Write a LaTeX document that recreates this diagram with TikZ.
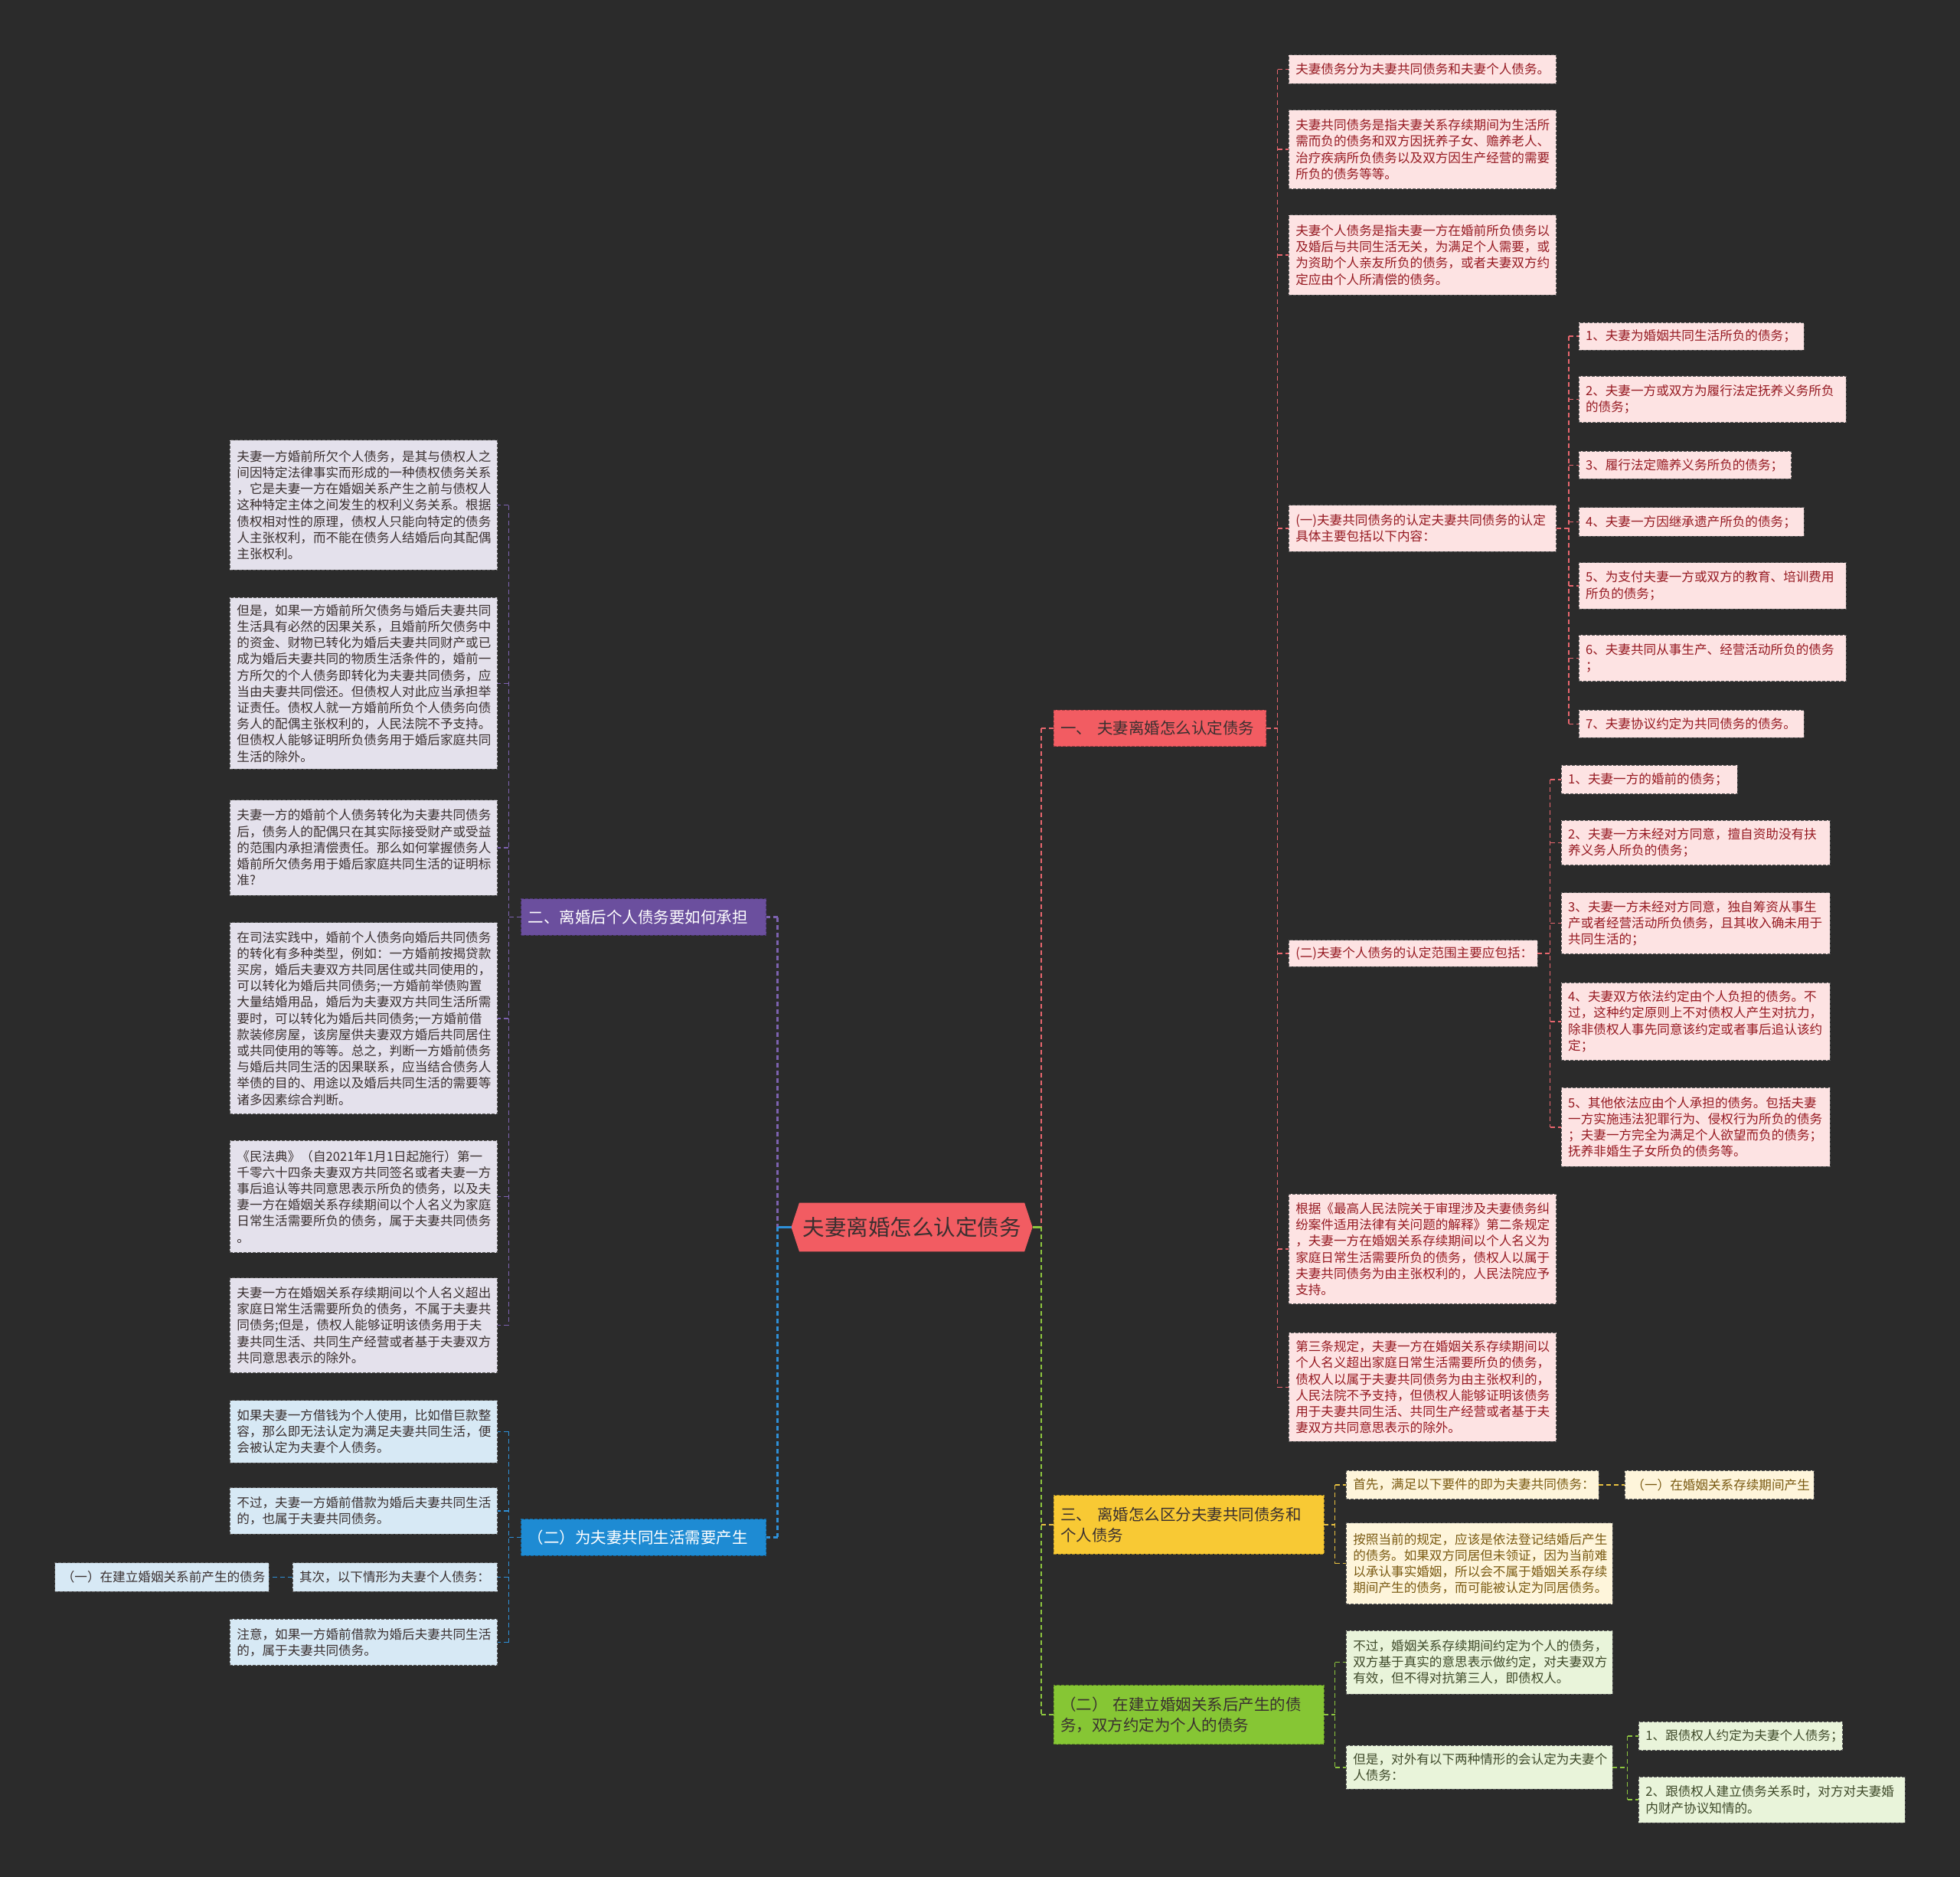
\documentclass[tikz,border=0pt]{standalone}
\usepackage{fontspec}
\newfontfamily\cjk{Noto Sans CJK SC}
\usetikzlibrary{calc}
\definecolor{bgc}{HTML}{2B2B2B}
\definecolor{redM}{HTML}{F25C62}
\definecolor{redL}{HTML}{E8666E}
\definecolor{pinkF}{HTML}{FDE3E3}
\definecolor{pinkT}{HTML}{961A22}
\definecolor{purM}{HTML}{6B4F9E}
\definecolor{purL}{HTML}{7D62B0}
\definecolor{lavF}{HTML}{E4E1EC}
\definecolor{bluM}{HTML}{1E8BD3}
\definecolor{bluL}{HTML}{2E90D8}
\definecolor{lbF}{HTML}{D7E9F5}
\definecolor{yelM}{HTML}{F8C934}
\definecolor{yelL}{HTML}{E8C040}
\definecolor{yelF}{HTML}{FEF5DB}
\definecolor{yelT}{HTML}{7A5A12}
\definecolor{grnM}{HTML}{86C634}
\definecolor{grnL}{HTML}{8DC63F}
\definecolor{grnF}{HTML}{E9F4DA}
\definecolor{grnT}{HTML}{3F4A2A}
\definecolor{darkT}{HTML}{3A3030}
\definecolor{bordG}{HTML}{5A5A5A}
\newcommand\leaffont{\cjk\fontsize{16.6}{21.2}\selectfont}
\newcommand\brfont{\cjk\fontsize{20.5}{27.5}\selectfont}
\newcommand\bx[7]{%
  \pgfmathsetmacro\bxw{(#4-#2)*1.63265}%
  \pgfmathsetmacro\bxh{(#5-#3)*1.63265}%
  \pgfmathsetmacro\bxt{\bxw-18}%
  \node[#6, minimum width=\bxw pt, minimum height=\bxh pt, text width=\bxt pt] (#1) at ({(#2+#4)/2},{(#3+#5)/2}) {#7};}
\tikzset{
  box/.style={rectangle, inner xsep=9pt, inner ysep=1pt, outer sep=0pt, align=left, line width=0.9pt, dash pattern=on 4pt off 2pt},
  leafR/.style={box, fill=pinkF, draw=bordG, text=pinkT, font=\leaffont},
  leafP/.style={box, fill=lavF, draw=bordG, text=darkT, font=\leaffont},
  leafB/.style={box, fill=lbF, draw=bordG, text=darkT, font=\leaffont},
  leafY/.style={box, fill=yelF, draw=bordG, text=yelT, font=\leaffont},
  leafG/.style={box, fill=grnF, draw=bordG, text=grnT, font=\leaffont},
  brR/.style={box, fill=redM, draw=redM!70!black, text=darkT, font=\brfont},
  brP/.style={box, fill=purM, draw=purM!70!black, text=white, font=\brfont},
  brB/.style={box, fill=bluM, draw=bluM!70!black, text=white, font=\brfont},
  brY/.style={box, fill=yelM, draw=yelM!70!black, text=darkT, font=\brfont},
  brG/.style={box, fill=grnM, draw=grnM!70!black, text=darkT, font=\brfont},
  ln/.style={line width=1.5pt, dash pattern=on 6pt off 4pt},
  lnR/.style={ln, draw=redL},
  lnP/.style={ln, draw=purL},
  lnB/.style={ln, draw=bluL},
  lnY/.style={ln, draw=yelL},
  lnG/.style={ln, draw=grnL},
  tk/.style={line width=2.5pt, dash pattern=on 6pt off 4pt},
}
\begin{document}
\begin{tikzpicture}[x=1.63265pt, y=-1.63265pt]
\fill[bgc] (0,0) rectangle (1568,1501);
\useasboundingbox (0,0) rectangle (1568,1501);

% central topic
\fill[redM] (633,981.5) -- (639.4,962) -- (819.6,962) -- (826,981.5) -- (819.6,1001) -- (639.4,1001) -- cycle;
\node[minimum width=315pt, minimum height=64pt, inner sep=0pt, outer sep=0pt, text=darkT, font=\cjk\fontsize{28.5}{32}\selectfont] (Z) at (729.5,981.5) {夫妻离婚怎么认定债务};

% main branches
\bx{R}{843}{568}{1013}{597}{brR}{一、 夫妻离婚怎么认定债务}
\bx{P}{417}{719}{613}{748}{brP}{二、离婚后个人债务要如何承担}
\bx{B}{417}{1215}{613}{1244}{brB}{（二）为夫妻共同生活需要产生}
\bx{Y}{843}{1196}{1059}{1243}{brY}{三、 离婚怎么区分夫妻共同债务和\\个人债务}
\bx{G}{843}{1348}{1059}{1395}{brG}{（二） 在建立婚姻关系后产生的债\\务，双方约定为个人的债务}

% red children
\bx{C1}{1031}{44}{1245}{67}{leafR}{夫妻债务分为夫妻共同债务和夫妻个人债务。}
\bx{C2}{1031}{88}{1245}{151}{leafR}{夫妻共同债务是指夫妻关系存续期间为生活所\\需而负的债务和双方因抚养子女、赡养老人、\\治疗疾病所负债务以及双方因生产经营的需要\\所负的债务等等。}
\bx{C3}{1031}{172}{1245}{236}{leafR}{夫妻个人债务是指夫妻一方在婚前所负债务以\\及婚后与共同生活无关，为满足个人需要，或\\为资助个人亲友所负的债务，或者夫妻双方约\\定应由个人所清偿的债务。}
\bx{C4}{1031}{404}{1245}{441}{leafR}{(一)夫妻共同债务的认定夫妻共同债务的认定\\具体主要包括以下内容：}
\bx{C5}{1031}{752}{1230}{773}{leafR}{(二)夫妻个人债务的认定范围主要应包括：}
\bx{C6}{1031}{955}{1245}{1043}{leafR}{根据《最高人民法院关于审理涉及夫妻债务纠\\纷案件适用法律有关问题的解释》第二条规定\\，夫妻一方在婚姻关系存续期间以个人名义为\\家庭日常生活需要所负的债务，债权人以属于\\夫妻共同债务为由主张权利的，人民法院应予\\支持。}
\bx{C7}{1031}{1066}{1245}{1153}{leafR}{第三条规定，夫妻一方在婚姻关系存续期间以\\个人名义超出家庭日常生活需要所负的债务，\\债权人以属于夫妻共同债务为由主张权利的，\\人民法院不予支持，但债权人能够证明该债务\\用于夫妻共同生活、共同生产经营或者基于夫\\妻双方共同意思表示的除外。}

% (一) children
\bx{D1}{1263}{258}{1443}{280}{leafR}{1、夫妻为婚姻共同生活所负的债务；}
\bx{D2}{1263}{301}{1477}{338}{leafR}{2、夫妻一方或双方为履行法定抚养义务所负\\的债务；}
\bx{D3}{1263}{361}{1433}{383}{leafR}{3、履行法定赡养义务所负的债务；}
\bx{D4}{1263}{406}{1443}{429}{leafR}{4、夫妻一方因继承遗产所负的债务；}
\bx{D5}{1263}{450}{1477}{487}{leafR}{5、为支付夫妻一方或双方的教育、培训费用\\所负的债务；}
\bx{D6}{1263}{508}{1477}{545}{leafR}{6、夫妻共同从事生产、经营活动所负的债务\\；}
\bx{D7}{1263}{568}{1443}{590}{leafR}{7、夫妻协议约定为共同债务的债务。}

% (二) children
\bx{E1}{1249}{612}{1390}{635}{leafR}{1、夫妻一方的婚前的债务；}
\bx{E2}{1249}{656}{1464}{692}{leafR}{2、夫妻一方未经对方同意，擅自资助没有扶\\养义务人所负的债务；}
\bx{E3}{1249}{714}{1464}{763}{leafR}{3、夫妻一方未经对方同意，独自筹资从事生\\产或者经营活动所负债务，且其收入确未用于\\共同生活的；}
\bx{E4}{1249}{786}{1464}{848}{leafR}{4、夫妻双方依法约定由个人负担的债务。不\\过，这种约定原则上不对债权人产生对抗力，\\除非债权人事先同意该约定或者事后追认该约\\定；}
\bx{E5}{1249}{870}{1464}{933}{leafR}{5、其他依法应由个人承担的债务。包括夫妻\\一方实施违法犯罪行为、侵权行为所负的债务\\；夫妻一方完全为满足个人欲望而负的债务；\\抚养非婚生子女所负的债务等。}

% yellow
\bx{Y1}{1077}{1176}{1279}{1199}{leafY}{首先，满足以下要件的即为夫妻共同债务：}
\bx{Y1a}{1300}{1176}{1451}{1199}{leafY}{（一）在婚姻关系存续期间产生}
\bx{Y2}{1077}{1218}{1290}{1283}{leafY}{按照当前的规定，应该是依法登记结婚后产生\\的债务。如果双方同居但未领证，因为当前难\\以承认事实婚姻，所以会不属于婚姻关系存续\\期间产生的债务，而可能被认定为同居债务。}

% green
\bx{G1}{1077}{1304}{1290}{1355}{leafG}{不过，婚姻关系存续期间约定为个人的债务，\\双方基于真实的意思表示做约定，对夫妻双方\\有效，但不得对抗第三人，即债权人。}
\bx{G2}{1077}{1396}{1290}{1431}{leafG}{但是，对外有以下两种情形的会认定为夫妻个\\人债务：}
\bx{G2a}{1311}{1377}{1474}{1400}{leafG}{1、跟债权人约定为夫妻个人债务；}
\bx{G2b}{1311}{1421}{1524}{1458}{leafG}{2、跟债权人建立债务关系时，对方对夫妻婚\\内财产协议知情的。}

% purple children
\bx{L1}{184}{352}{398}{456}{leafP}{夫妻一方婚前所欠个人债务，是其与债权人之\\间因特定法律事实而形成的一种债权债务关系\\，它是夫妻一方在婚姻关系产生之前与债权人\\这种特定主体之间发生的权利义务关系。根据\\债权相对性的原理，债权人只能向特定的债务\\人主张权利，而不能在债务人结婚后向其配偶\\主张权利。}
\bx{L2}{184}{478}{398}{615}{leafP}{但是，如果一方婚前所欠债务与婚后夫妻共同\\生活具有必然的因果关系，且婚前所欠债务中\\的资金、财物已转化为婚后夫妻共同财产或已\\成为婚后夫妻共同的物质生活条件的，婚前一\\方所欠的个人债务即转化为夫妻共同债务，应\\当由夫妻共同偿还。但债权人对此应当承担举\\证责任。债权人就一方婚前所负个人债务向债\\务人的配偶主张权利的，人民法院不予支持。\\但债权人能够证明所负债务用于婚后家庭共同\\生活的除外。}
\bx{L3}{184}{640}{398}{716}{leafP}{夫妻一方的婚前个人债务转化为夫妻共同债务\\后，债务人的配偶只在其实际接受财产或受益\\的范围内承担清偿责任。那么如何掌握债务人\\婚前所欠债务用于婚后家庭共同生活的证明标\\准?}
\bx{L4}{184}{738}{398}{891}{leafP}{在司法实践中，婚前个人债务向婚后共同债务\\的转化有多种类型，例如：一方婚前按揭贷款\\买房，婚后夫妻双方共同居住或共同使用的，\\可以转化为婚后共同债务;一方婚前举债购置\\大量结婚用品，婚后为夫妻双方共同生活所需\\要时，可以转化为婚后共同债务;一方婚前借\\款装修房屋，该房屋供夫妻双方婚后共同居住\\或共同使用的等等。总之，判断一方婚前债务\\与婚后共同生活的因果联系，应当结合债务人\\举债的目的、用途以及婚后共同生活的需要等\\诸多因素综合判断。}
\bx{L5}{184}{912}{398}{1002}{leafP}{《民法典》（自2021年1月1日起施行）第一\\千零六十四条夫妻双方共同签名或者夫妻一方\\事后追认等共同意思表示所负的债务，以及夫\\妻一方在婚姻关系存续期间以个人名义为家庭\\日常生活需要所负的债务，属于夫妻共同债务\\。}
\bx{L6}{184}{1022}{398}{1098}{leafP}{夫妻一方在婚姻关系存续期间以个人名义超出\\家庭日常生活需要所负的债务，不属于夫妻共\\同债务;但是，债权人能够证明该债务用于夫\\妻共同生活、共同生产经营或者基于夫妻双方\\共同意思表示的除外。}

% blue children
\bx{B1}{184}{1120}{398}{1170}{leafB}{如果夫妻一方借钱为个人使用，比如借巨款整\\容，那么即无法认定为满足夫妻共同生活，便\\会被认定为夫妻个人债务。}
\bx{B2}{184}{1190}{398}{1227}{leafB}{不过，夫妻一方婚前借款为婚后夫妻共同生活\\的，也属于夫妻共同债务。}
\bx{B3}{234}{1250}{398}{1273}{leafB}{其次，以下情形为夫妻个人债务：}
\bx{B3a}{44}{1250}{215}{1273}{leafB}{（一）在建立婚姻关系前产生的债务}
\bx{B4}{184}{1295}{398}{1332}{leafB}{注意，如果一方婚前借款为婚后夫妻共同生活\\的，属于夫妻共同债务。}

% trunk coordinates
\coordinate (tR0) at (833,0);
\coordinate (tL0) at (622,0);
\coordinate (tC) at (1022,0);
\coordinate (tD) at (1255,0);
\coordinate (tE) at (1240,0);
\coordinate (tY) at (1068,0);
\coordinate (tG2) at (1302,0);
\coordinate (tP) at (407,0);

% central connectors
\draw[line width=2.5pt, grnL] (Z.east) -- (Z.east -| tR0);
\draw[tk, redL] (tR0 |- R.west) -- (tR0 |- Z.east);
\draw[tk, grnL] (tR0 |- Z.east) -- (tR0 |- G.west);
\draw[tk, redL] (tR0 |- R.west) -- (R.west);
\draw[tk, yelL] (tR0 |- Y.west) -- (Y.west);
\draw[tk, grnL] (tR0 |- G.west) -- (G.west);
\draw[line width=2.5pt, bluL] (Z.west) -- (Z.west -| tL0);
\draw[tk, purL] (tL0 |- P.east) -- (tL0 |- Z.west);
\draw[tk, bluL] (tL0 |- Z.west) -- (tL0 |- B.east);
\draw[tk, purL] (tL0 |- P.east) -- (P.east);
\draw[tk, bluL] (tL0 |- B.east) -- (B.east);

% red group
\draw[lnR] (R.east) -- (R.east -| tC);
\draw[lnR] (tC |- C1.west) -- (tC |- C7.west);
\foreach \n in {C1,C2,C3,C4,C5,C6,C7} {\draw[lnR] (tC |- \n.west) -- (\n.west);}
\draw[lnR] (C4.east) -- (C4.east -| tD);
\draw[lnR] (tD |- D1.west) -- (tD |- D7.west);
\foreach \n in {D1,D2,D3,D4,D5,D6,D7} {\draw[lnR] (tD |- \n.west) -- (\n.west);}
\draw[lnR] (C5.east) -- (C5.east -| tE);
\draw[lnR] (tE |- E1.west) -- (tE |- E5.west);
\foreach \n in {E1,E2,E3,E4,E5} {\draw[lnR] (tE |- \n.west) -- (\n.west);}

% yellow group
\draw[lnY] (Y.east) -- (Y.east -| tY);
\draw[lnY] (tY |- Y1.west) -- (tY |- Y2.west);
\foreach \n in {Y1,Y2} {\draw[lnY] (tY |- \n.west) -- (\n.west);}
\draw[lnY] (Y1.east) -- (Y1a.west);

% green group
\draw[lnG] (G.east) -- (G.east -| tY);
\draw[lnG] (tY |- G1.west) -- (tY |- G2.west);
\foreach \n in {G1,G2} {\draw[lnG] (tY |- \n.west) -- (\n.west);}
\draw[lnG] (G2.east) -- (G2.east -| tG2);
\draw[lnG] (tG2 |- G2a.west) -- (tG2 |- G2b.west);
\foreach \n in {G2a,G2b} {\draw[lnG] (tG2 |- \n.west) -- (\n.west);}

% purple group
\draw[lnP] (P.west) -- (P.west -| tP);
\draw[lnP] (tP |- L1.east) -- (tP |- L6.east);
\foreach \n in {L1,L2,L3,L4,L5,L6} {\draw[lnP] (tP |- \n.east) -- (\n.east);}

% blue group
\draw[lnB] (B.west) -- (B.west -| tP);
\draw[lnB] (tP |- B1.east) -- (tP |- B4.east);
\foreach \n in {B1,B2,B3,B4} {\draw[lnB] (tP |- \n.east) -- (\n.east);}
\draw[lnB] (B3.west) -- (B3a.east);
\end{tikzpicture}
\end{document}
